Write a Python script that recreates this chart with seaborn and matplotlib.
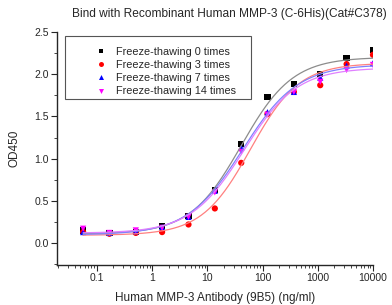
import numpy as np
import pandas as pd
import seaborn as sns
import matplotlib
matplotlib.use('Agg')
import matplotlib.pyplot as plt
from matplotlib.patches import Rectangle
from matplotlib.ticker import LogLocator, MultipleLocator, FixedLocator, FixedFormatter

# 3-fold dilution series, ng/ml
conc = [0.0565, 0.169, 0.508, 1.52, 4.57, 13.7, 41.2, 123, 370, 1111, 3333, 10000]
od_0 = [0.15, 0.12, 0.13, 0.20, 0.32, 0.63, 1.17, 1.73, 1.88, 2.00, 2.19, 2.29]
od_3 = [0.13, 0.11, 0.12, 0.13, 0.22, 0.41, 0.95, 1.53, 1.79, 1.87, 2.12, 2.23]
od_7 = [0.13, 0.12, 0.14, 0.19, 0.31, 0.62, 1.13, 1.55, 1.79, 1.96, 2.10, 2.13]
od_14 = [0.17, 0.12, 0.15, 0.18, 0.31, 0.60, 1.08, 1.52, 1.79, 1.91, 2.05, 2.11]

labels = ['Freeze-thawing 0 times', 'Freeze-thawing 3 times',
          'Freeze-thawing 7 times', 'Freeze-thawing 14 times']
colors = ['black', 'red', 'blue', 'magenta']
line_colors = ['#8c8c8c', '#ff8080', '#8080ff', '#e080ff']
markers = ['s', 'o', '^', 'v']


def fit_4pl(x, y):
    # plain damped Gauss-Newton on log10(x)
    lx = np.log10(x)
    y = np.asarray(y)
    p = np.array([y.min(), y.max(), np.median(lx), 1.0])

    def model(p, lx):
        return p[0] + (p[1] - p[0]) / (1 + 10 ** ((p[2] - lx) * p[3]))

    lam = 1e-2
    for _ in range(500):
        r = y - model(p, lx)
        J = np.zeros((len(lx), 4))
        for i in range(4):
            dp = np.zeros(4)
            dp[i] = 1e-6
            J[:, i] = (model(p + dp, lx) - model(p - dp, lx)) / 2e-6
        A = J.T @ J
        step = np.linalg.solve(A + lam * np.diag(np.diag(A)), J.T @ r)
        pn = p + step
        if np.sum((y - model(pn, lx)) ** 2) < np.sum(r ** 2):
            p = pn
            lam *= 0.5
        else:
            lam *= 4
    return lambda xx: model(p, np.log10(xx))


rows = []
curves = []
xs = np.logspace(np.log10(conc[0]), np.log10(conc[-1]), 300)
for lab, vals in zip(labels, [od_0, od_3, od_7, od_14]):
    for c, v in zip(conc, vals):
        rows.append({'conc': c, 'od': v, 'group': lab})
    f = fit_4pl(conc, vals)
    for xv in xs:
        curves.append({'conc': xv, 'od': f(xv), 'group': lab})
df = pd.DataFrame(rows)
cf = pd.DataFrame(curves)

sns.set_style('ticks')
plt.rcParams['font.family'] = ['Liberation Sans', 'DejaVu Sans']
plt.rcParams['font.size'] = 7.5

fig = plt.figure(figsize=(3.92, 3.05), dpi=100)
ax = fig.add_axes([0.1454, 0.1311, 0.806, 0.764])

sns.lineplot(data=cf, x='conc', y='od', hue='group', palette=line_colors,
             hue_order=labels, linewidth=0.9, legend=False, ax=ax)
sns.scatterplot(data=df, x='conc', y='od', hue='group', style='group',
                hue_order=labels, style_order=labels, palette=colors,
                markers=markers, s=20, edgecolor='none', ax=ax)

ax.set_xscale('log')
ax.set_xlim(0.019, 10000)
ax.set_ylim(-0.26, 2.5)
ax.xaxis.set_major_locator(FixedLocator([0.1, 1, 10, 100, 1000, 10000]))
ax.xaxis.set_major_formatter(FixedFormatter(['0.1', '1', '10', '100', '1000', '10000']))
ax.xaxis.set_minor_locator(LogLocator(base=10, subs=np.arange(2, 10)))
ax.yaxis.set_major_locator(MultipleLocator(0.5))
ax.yaxis.set_minor_locator(MultipleLocator(0.25))
ax.yaxis.set_major_formatter(matplotlib.ticker.FormatStrFormatter('%.1f'))
ax.tick_params(which='major', direction='out', length=4, width=0.8, labelsize=7.5, pad=2)
ax.tick_params(which='minor', direction='out', length=2, width=0.6)
sns.despine(ax=ax)
for s in ['left', 'bottom']:
    ax.spines[s].set_linewidth(1.0)

ax.set_xlabel('Human MMP-3 Antibody (9B5) (ng/ml)', fontsize=8.5, labelpad=6)
ax.set_ylabel('OD450', fontsize=8.5, labelpad=10)

# legend without its own frame, box drawn separately (wide left margin)
leg = ax.legend(loc='upper left', bbox_to_anchor=(0.235, 0.847),
                bbox_transform=fig.transFigure, fontsize=7.8, frameon=False,
                handletextpad=0.6, labelspacing=0.3, borderpad=0,
                borderaxespad=0, handlelength=1.6, markerscale=0.8)
fig.patches.append(Rectangle((0.1658, 0.675), 0.4745, 0.2066, transform=fig.transFigure,
                             fill=False, edgecolor='#555555', linewidth=0.8))

fig.text(0.184, 0.955, 'Bind with Recombinant Human MMP-3 (C-6His)(Cat#C378)',
         fontsize=8.6, ha='left', va='center')

fig.savefig('out.png', dpi=100)
